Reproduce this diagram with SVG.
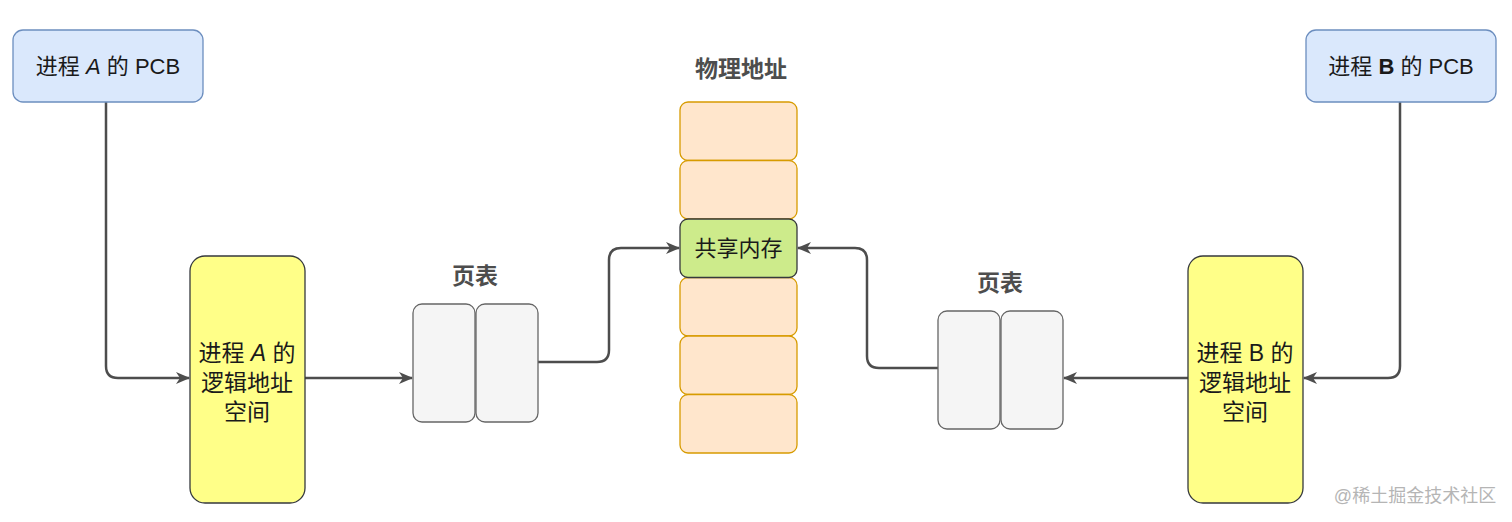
<svg xmlns="http://www.w3.org/2000/svg" width="1512" height="522" viewBox="0 0 1512 522">
<defs>
<marker id="arr" markerWidth="14" markerHeight="12" refX="13" refY="6" orient="auto" markerUnits="userSpaceOnUse" viewBox="0 0 14 12">
<path d="M0,0 L14,6 L0,12 L4,6 Z" fill="#4d4d4d"/>
</marker>
<style>
text{font-family:"Liberation Sans","Noto Sans CJK SC",sans-serif;fill:#1a1a1a;text-anchor:middle}
.t{font-size:22px}
.y{font-size:23px}
.h{font-size:23px;font-weight:bold;fill:#4d4d4d}
.pcb{fill:#dae8fc;stroke:#6c8ebf;stroke-width:1.3}
.ys{fill:#ffff88;stroke:#36393d;stroke-width:1.3}
.pt{fill:#f5f5f5;stroke:#666666;stroke-width:1.3}
.mem{fill:#ffe6cc;stroke:#d79b00;stroke-width:1.3}
.sh{fill:#cdeb8b;stroke:#36393d;stroke-width:1.3}
.c{fill:none;stroke:#4d4d4d;stroke-width:2.5;marker-end:url(#arr)}
</style>
</defs>
<rect width="1512" height="522" fill="#ffffff"/>
<g id="connectors">
<path class="c" d="M106,102 V366 Q106,378 118,378 H189"/>
<path class="c" d="M305,378 H412"/>
<path class="c" d="M538,362 H597 Q609,362 609,350 V260 Q609,248 621,248 H679"/>
<path class="c" d="M938,368 H879 Q867,368 867,356 V260 Q867,248 855,248 H798"/>
<path class="c" d="M1188,378 H1064"/>
<path class="c" d="M1400,102 V366 Q1400,378 1388,378 H1304"/>
</g>
<g id="pcbA"><rect class="pcb" x="13" y="30" width="190" height="72" rx="10"/><text class="t" x="108" y="74">进程 <tspan font-style="italic">A</tspan> 的 PCB</text></g>
<g id="pcbB"><rect class="pcb" x="1306" y="30" width="190" height="72" rx="10"/><text class="t" x="1401" y="74">进程 <tspan font-weight="bold">B</tspan> 的 PCB</text></g>
<g id="logA"><rect class="ys" x="190" y="256" width="115" height="247" rx="15"/><text class="y" x="247" y="361">进程 <tspan font-style="italic">A</tspan> 的</text><text class="y" x="247" y="391">逻辑地址</text><text class="y" x="247" y="420">空间</text></g>
<g id="logB"><rect class="ys" x="1188" y="256" width="115" height="247" rx="15"/><text class="y" x="1245" y="361">进程 B 的</text><text class="y" x="1245" y="391">逻辑地址</text><text class="y" x="1245" y="420">空间</text></g>
<g id="ptA"><text class="h" x="475" y="284">页表</text><rect class="pt" x="413" y="304" width="62" height="118" rx="9"/><rect class="pt" x="476" y="304" width="62" height="118" rx="9"/></g>
<g id="ptB"><text class="h" x="1000" y="291">页表</text><rect class="pt" x="938" y="311" width="62" height="118" rx="9"/><rect class="pt" x="1001" y="311" width="62" height="118" rx="9"/></g>
<g id="phys">
<text class="h" x="741" y="77">物理地址</text>
<rect class="mem" x="680" y="102" width="117" height="58.5" rx="8"/>
<rect class="mem" x="680" y="160.5" width="117" height="58.5" rx="8"/>
<rect class="mem" x="680" y="277.5" width="117" height="58.5" rx="8"/>
<rect class="mem" x="680" y="336" width="117" height="58.5" rx="8"/>
<rect class="mem" x="680" y="394.5" width="117" height="58.5" rx="8"/>
</g>
<g id="shared"><rect class="sh" x="680" y="219" width="117" height="58.5" rx="8"/><text class="t" x="738.5" y="256">共享内存</text></g>
<text x="1415" y="502" style="font-size:18px;fill:#b5b5b5">@稀土掘金技术社区</text>
</svg>
